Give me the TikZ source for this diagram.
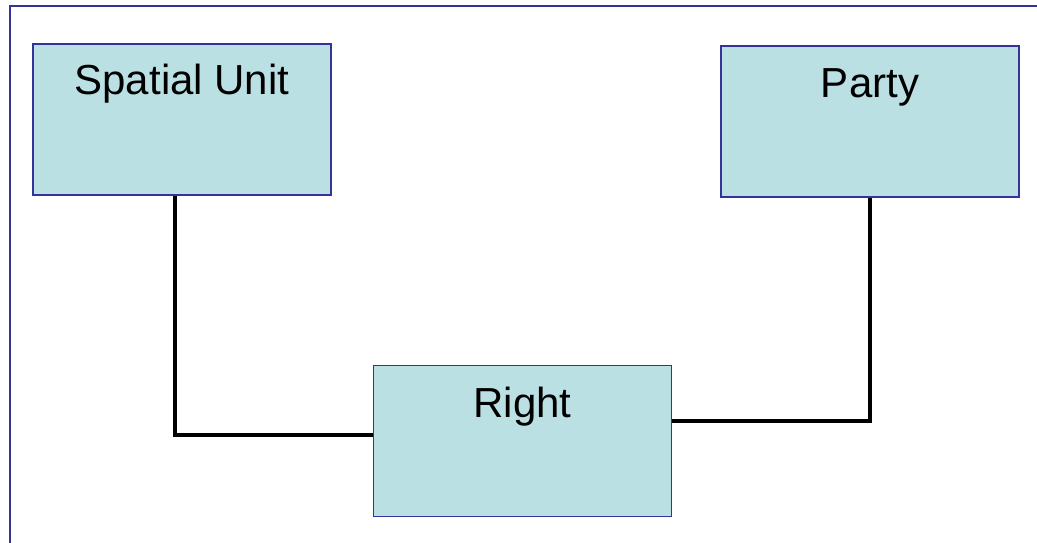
\documentclass[tikz,border=0pt]{standalone}
\usepackage{fontspec}
\setmainfont{Liberation Sans}
\definecolor{frameblue}{RGB}{51,51,153}
\definecolor{boxfill}{RGB}{187,224,227}
\tikzset{
  entity/.style={draw=frameblue, line width=1.3pt, fill=boxfill, rectangle, minimum width=298pt, minimum height=151pt, inner sep=0pt},
  title/.style={anchor=base, font=\fontsize{42}{50}\selectfont, inner sep=0pt},
  link/.style={draw=black, line width=4pt}
}
\begin{document}
\begin{tikzpicture}[x=1pt,y=-1pt]
\useasboundingbox (0,0) rectangle (1037,543);
\fill[white] (0,0) rectangle (1037,543);
\draw[frameblue, line width=2pt] (9.5,543) -- (9.5,6.5) -- (1037,6.5);
\node[entity] (su) at (182,119.5) {};
\node[entity] (party) at (870,121.5) {};
\node[entity] (right) at (522.5,441) {};
\node[title] (sut) at (182,95) {Spatial Unit};
\node[title] (pt) at (870,98) {Party};
\node[title] (rt) at (522.5,417) {Right};
\coordinate (c1) at (175,435);
\coordinate (c2) at (870,421);
\draw[link] (su.south -| c1) -- (c1) -- (c1 -| right.west);
\draw[link] (c2 -| right.east) -- (c2) -- (party.south);
\end{tikzpicture}
\end{document}
